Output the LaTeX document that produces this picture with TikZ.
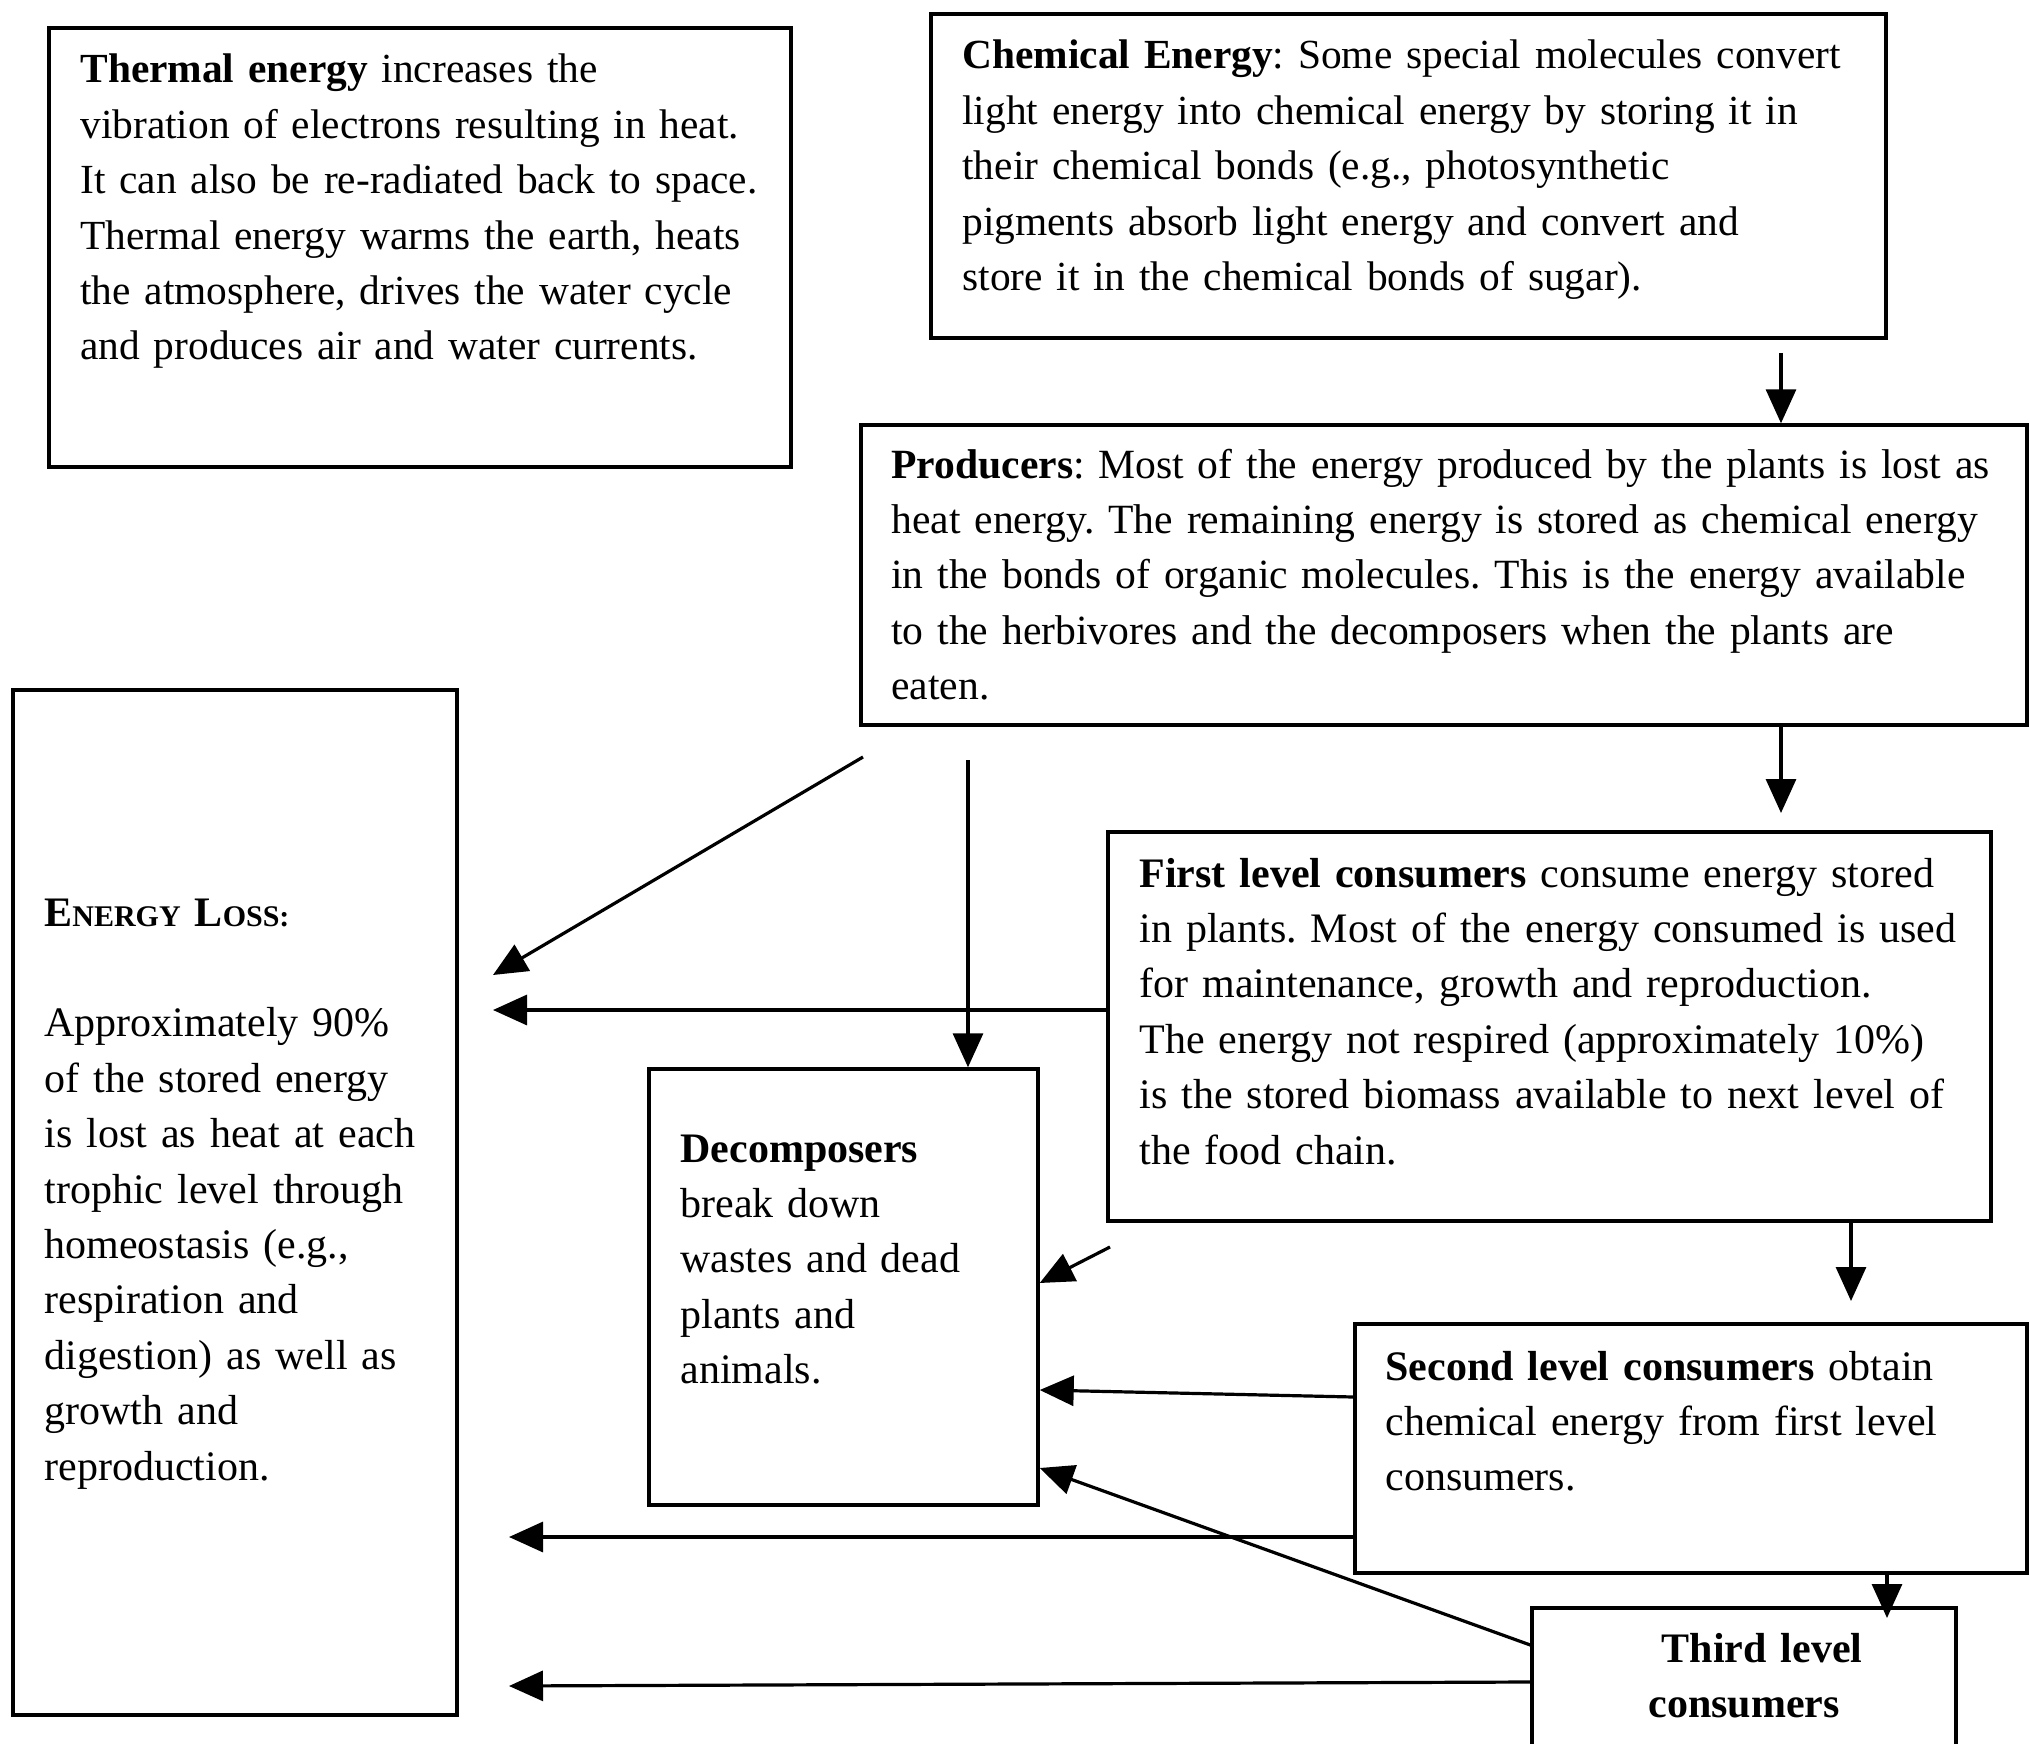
\documentclass[tikz,border=0pt]{standalone}
\usepackage{fontspec}
\setmainfont{Liberation Serif}
\usetikzlibrary{arrows.meta,fit}
\frenchspacing
\newcommand{\smallcapsfake}[1]{{\fontsize{15}{27.7}\selectfont #1}}
\tikzset{
  box/.style={draw, line width=1.7pt, inner sep=0pt},
  txt/.style={inner sep=0pt, align=left, text width=700pt, anchor=base west,
              font=\fontsize{#1}{27.7}\selectfont\frenchspacing},
  arr/.style={line width=1.6pt, -{Triangle[length=17pt,width=15pt]}},
}
\begin{document}
\begin{tikzpicture}[x=0.5pt,y=-0.5pt]
\useasboundingbox (0,0) rectangle (2030,1744);
% boxes
\node[box, fit={(49,28) (791,467)}] (thermal) {};
\node[box, fit={(931,14) (1886,338)}] (chem) {};
\node[box, fit={(861,425) (2027,725)}] (prod) {};
\node[box, fit={(13,690) (457,1715)}] (loss) {};
\node[box, fit={(1108,832) (1991,1221)}] (first) {};
\node[box, fit={(649,1069) (1038,1505)}] (decomp) {};
\node[box, fit={(1355,1324) (2027,1573)}] (second) {};
\node[box, fit={(1532,1608) (1956,1800)}] (third) {};
% texts
\node[txt=20.7] (thermaltxt) at (80,83) {\textbf{Thermal energy} increases the\\
vibration of electrons resulting in heat.\\
It can also be re-radiated back to space.\\
Thermal energy warms the earth, heats\\
the atmosphere, drives the water cycle\\
and produces air and water currents.};
\node[txt=20.7] (chemtxt) at (962,69) {\textbf{Chemical Energy}: Some special molecules convert\\
light energy into chemical energy by storing it in\\
their chemical bonds (e.g., photosynthetic\\
pigments absorb light energy and convert and\\
store it in the chemical bonds of sugar).};
\node[txt=20.8] (prodtxt) at (891,478) {\textbf{Producers}: Most of the energy produced by the plants is lost as\\
heat energy. The remaining energy is stored as chemical energy\\
in the bonds of organic molecules. This is the energy available\\
to the herbivores and the decomposers when the plants are\\
eaten.};
\node[txt=21] (losstxt) at (44,926) {\textbf{E\smallcapsfake{NERGY} L\smallcapsfake{OSS:}}\\
\mbox{}\\
Approximately 90\%\\
of the stored energy\\
is lost as heat at each\\
trophic level through\\
homeostasis (e.g.,\\
respiration and\\
digestion) as well as\\
growth and\\
reproduction.};
\node[txt=21] (firsttxt) at (1139,887) {\textbf{First level consumers} consume energy stored\\
in plants. Most of the energy consumed is used\\
for maintenance, growth and reproduction.\\
The energy not respired (approximately 10\%)\\
is the stored biomass available to next level of\\
the food chain.};
\node[txt=21] (decomptxt) at (680,1162) {\textbf{Decomposers}\\
break down\\
wastes and dead\\
plants and\\
animals.};
\node[txt=21] (secondtxt) at (1385,1380) {\textbf{Second level consumers} obtain\\
chemical energy from first level\\
consumers.};
\node[inner sep=0pt, align=center, text width=200pt, anchor=base,
      font=\fontsize{21}{27.7}\selectfont\bfseries] (thirdtxt) at (1744,1662)
      {\hspace*{18pt}Third level\\consumers};
% free ends
\coordinate (a1s) at (1781,353);
\coordinate (a2e) at (1781,813);
\coordinate (a3s) at (863,757);
\coordinate (a3e) at (493,975);
\coordinate (a4s) at (968,760);
\coordinate (a5e) at (493,1010);
\coordinate (a6s) at (1110,1247);
\coordinate (a7e) at (1851,1301);
\coordinate (a9e) at (509,1537);
\coordinate (a12e) at (509,1686);
% arrows
\draw[arr] (a1s) -- (prod.north -| a1s);
\draw[arr] (prod.south -| a2e) -- (a2e);
\draw[arr] (a3s) -- (a3e);
\draw[arr] (a4s) -- (decomp.north -| a4s);
\draw[arr] (first.west |- a5e) -- (a5e);
\draw[arr] (a6s) -- (decomp.east |- 0,1283);
\draw[arr] (first.south -| a7e) -- (a7e);
\draw[arr] (second.west |- 0,1397) -- (decomp.east |- 0,1390);
\draw[arr] (second.west |- a9e) -- (a9e);
\draw[arr] (second.south -| 1887,0) -- (1887,1618);
\draw[arr] (third.west |- 0,1645) -- (decomp.east |- 0,1468);
\draw[arr] (third.west |- 0,1682) -- (a12e);
\end{tikzpicture}
\end{document}
